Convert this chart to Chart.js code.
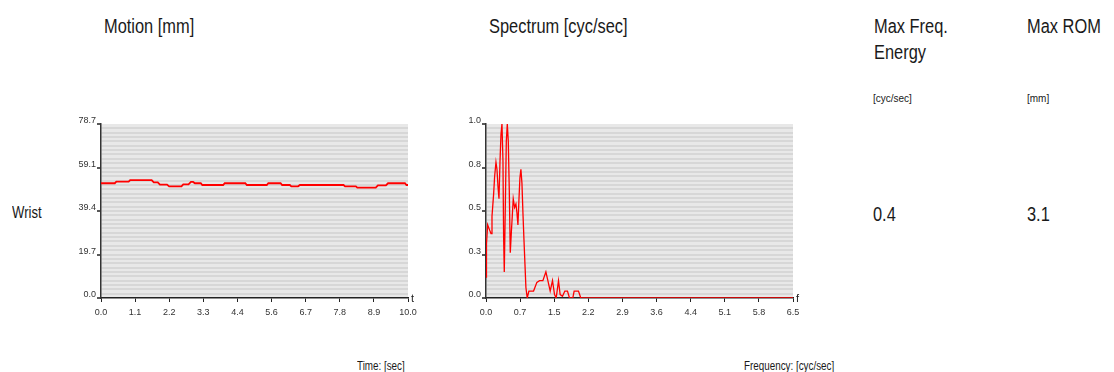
<!DOCTYPE html>
<html>
<head>
<meta charset="utf-8">
<script src="https://cdn.jsdelivr.net/npm/chart.js@4/dist/chart.umd.min.js"></script>
<style>
    body { margin: 0; background: #fff; width: 1114px; height: 372px; overflow: hidden; position: relative;
           font-family: 'Liberation Sans', Arial, sans-serif; color: #1a1a1a; }
    .txt { position: absolute; white-space: nowrap; line-height: 1; }
    .narrow { transform: scaleX(0.82); transform-origin: 0 0; }
    .title { font-size: 20px; }
    .small { font-size: 10px; }
    .box { position: absolute; }
</style>
</head>
<body>
<div class="txt title narrow" style="left:104px; top:16px;">Motion [mm]</div>
<div class="txt title narrow" style="left:489px; top:16px;">Spectrum [cyc/sec]</div>
<div class="txt title narrow" style="left:874px; top:13px; line-height:26px;">Max Freq.<br>Energy</div>
<div class="txt title narrow" style="left:1027px; top:16px;">Max ROM</div>
<div class="txt small" style="left:873px; top:94px;">[cyc/sec]</div>
<div class="txt small" style="left:1027px; top:94px;">[mm]</div>
<div class="txt narrow" style="left:12px; top:205px; font-size:16px;">Wrist</div>
<div class="txt title narrow" style="left:873px; top:204px;">0.4</div>
<div class="txt title narrow" style="left:1027px; top:204px;">3.1</div>
<div class="txt narrow" style="left:357px; top:360px; font-size:12px;">Time: [sec]</div>
<div class="txt narrow" style="left:744px; top:360px; font-size:12px;">Frequency: [cyc/sec]</div>

<div class="box" style="left:40px; top:110px; width:385px; height:215px;"><canvas id="motionChart"></canvas></div>
<div class="box" style="left:425px; top:110px; width:385px; height:215px;"><canvas id="spectrumChart"></canvas></div>

<script>
// ---------- data ----------
const motionTime = [0, 0.45, 0.5, 0.9, 0.95, 1.65, 1.72, 1.85, 1.92, 2.15, 2.22, 2.62, 2.68, 2.85, 2.93, 3.0,
    3.06, 3.25, 3.3, 3.98, 4.03, 4.7, 4.75, 5.4, 5.45, 5.85, 5.9, 6.15, 6.2, 6.42, 6.48, 7.9, 7.95, 8.3,
    8.35, 8.95, 9.02, 9.28, 9.35, 9.9, 9.95, 10];
const motionValue = [51.9, 51.9, 52.6, 52.6, 53.3, 53.3, 52.3, 52.3, 51.3, 51.3, 50.5, 50.5, 51.4, 51.4, 52.5, 52.5,
    51.9, 51.9, 51.1, 51.1, 51.9, 51.9, 51.1, 51.1, 51.9, 51.9, 51.1, 51.1, 50.5, 50.5, 51.1, 51.1, 50.5, 50.5,
    49.9, 49.9, 50.9, 50.9, 51.9, 51.9, 51.1, 51.1];
const motionXLabels = ['0.0', '1.1', '2.2', '3.3', '4.4', '5.6', '6.7', '7.8', '8.9', '10.0'];
const motionYLabels = ['0.0', '19.7', '39.4', '59.1', '78.7'];

const specFreq = [0, 0.01, 0.035, 0.077, 0.106, 0.127, 0.162, 0.183, 0.211, 0.232, 0.254, 0.275, 0.296, 0.317,
    0.338, 0.359, 0.373, 0.387, 0.408, 0.430, 0.451, 0.472, 0.493, 0.514, 0.535, 0.556, 0.577, 0.606, 0.634,
    0.655, 0.676, 0.697, 0.718, 0.739, 0.761, 0.782, 0.803, 0.824, 0.845, 0.873, 0.908, 1.007, 1.077, 1.134,
    1.204, 1.268, 1.310, 1.359, 1.408, 1.451, 1.486, 1.535, 1.570, 1.620, 1.669, 1.725, 1.768, 1.838, 1.866,
    1.958, 2.007, 6.5];
const specAmp = [0.12, 0.31, 0.42, 0.39, 0.37, 0.47, 0.60, 0.70, 0.78, 0.74, 0.64, 0.57, 0.78, 0.94,
    1.0, 0.79, 0.35, 0.15, 0.51, 0.90, 1.0, 0.90, 0.62, 0.26, 0.37, 0.47, 0.57, 0.52, 0.54,
    0.49, 0.42, 0.56, 0.69, 0.74, 0.66, 0.49, 0.34, 0.20, 0.06, 0, 0.04, 0.04, 0.09, 0.10,
    0.10, 0.15, 0.10, 0.04, 0.10, 0.02, 0, 0.10, 0.02, 0.01, 0.04, 0.04, 0, 0, 0.04,
    0.04, 0, 0];
const specXLabels = ['0.0', '0.7', '1.5', '2.2', '2.9', '3.6', '4.4', '5.1', '5.8', '6.5'];
const specYLabels = ['0.0', '0.3', '0.5', '0.8', '1.0'];

const MINOR_STEPS = 40;   // striped background rows
const MAJOR_EVERY = 10;

Chart.defaults.font.family = "'Liberation Sans', Arial, sans-serif";
Chart.defaults.font.size = 9;
Chart.defaults.color = '#333';

// plot background + axis-end letter
const plotDecor = {
    id: 'plotDecor',
    beforeDraw(chart, args, opts) {
        const a = chart.chartArea;
        const ctx = chart.ctx;
        ctx.save();
        ctx.fillStyle = '#e8e8e8';
        ctx.fillRect(a.left, a.top, a.right - a.left, a.bottom - a.top);
        ctx.restore();
    },
    afterDraw(chart, args, opts) {
        const a = chart.chartArea;
        const ctx = chart.ctx;
        ctx.save();
        ctx.fillStyle = '#222';
        ctx.font = "11px 'Liberation Sans', Arial, sans-serif";
        ctx.textBaseline = 'middle';
        ctx.fillText(opts.letter, a.right + 3, a.bottom + 1);
        ctx.restore();
    }
};

function makeChart(id, xs, ys, xMax, yMax, xLabels, yLabels, letter, lineWidth) {
    const pts = xs.map((x, i) => ({ x: x, y: ys[i] }));
    return new Chart(document.getElementById(id), {
        type: 'line',
        data: {
            datasets: [{
                data: pts,
                borderColor: '#ff0000',
                borderWidth: lineWidth,
                pointRadius: 0,
                tension: 0,
                fill: false
            }]
        },
        plugins: [plotDecor],
        options: {
            responsive: true,
            maintainAspectRatio: false,
            animation: false,
            layout: { padding: { top: 14, right: 17, left: 0, bottom: 0 } },
            plugins: {
                legend: { display: false },
                tooltip: { enabled: false },
                plotDecor: { letter: letter }
            },
            scales: {
                x: {
                    type: 'linear',
                    min: 0,
                    max: xMax,
                    afterBuildTicks: (s) => {
                        s.ticks = xLabels.map((l, i) => ({ value: i * xMax / (xLabels.length - 1) }));
                    },
                    afterFit: (s) => { s.height = 27; s.paddingLeft = 0; s.paddingRight = 0; },
                    grid: {
                        drawOnChartArea: false,
                        drawTicks: true,
                        tickLength: 4,
                        tickColor: '#222'
                    },
                    border: { display: true, color: '#222', width: 1.5 },
                    ticks: {
                        autoSkip: false,
                        maxRotation: 0,
                        padding: 5,
                        color: '#333',
                        callback: (v, i) => xLabels[i]
                    }
                },
                y: {
                    type: 'linear',
                    min: 0,
                    max: yMax,
                    afterBuildTicks: (s) => {
                        const t = [];
                        for (let i = 0; i <= MINOR_STEPS; i++) t.push({ value: i * yMax / MINOR_STEPS });
                        s.ticks = t;
                    },
                    afterFit: (s) => { s.width = 61; s.paddingTop = 0; s.paddingBottom = 0; },
                    grid: {
                        drawTicks: true,
                        tickLength: 4,
                        lineWidth: 2,
                        color: (c) => (c.index === 0 || c.index === MINOR_STEPS) ? 'rgba(0,0,0,0)' : '#d7d7d7',
                        tickColor: (c) => c.index % MAJOR_EVERY === 0 ? '#222' : 'rgba(0,0,0,0)',
                        tickWidth: 1.5
                    },
                    border: { display: true, color: '#333', width: 1.5 },
                    ticks: {
                        autoSkip: false,
                        padding: 1,
                        labelOffset: -3,
                        color: '#333',
                        callback: (v, i) => i % MAJOR_EVERY === 0 ? yLabels[i / MAJOR_EVERY] : ''
                    }
                }
            }
        }
    });
}

makeChart('motionChart', motionTime, motionValue, 10, 78.7, motionXLabels, motionYLabels, 't', 1.8);
makeChart('spectrumChart', specFreq, specAmp, 6.5, 1.0, specXLabels, specYLabels, 'f', 1.3);
</script>
</body>
</html>
